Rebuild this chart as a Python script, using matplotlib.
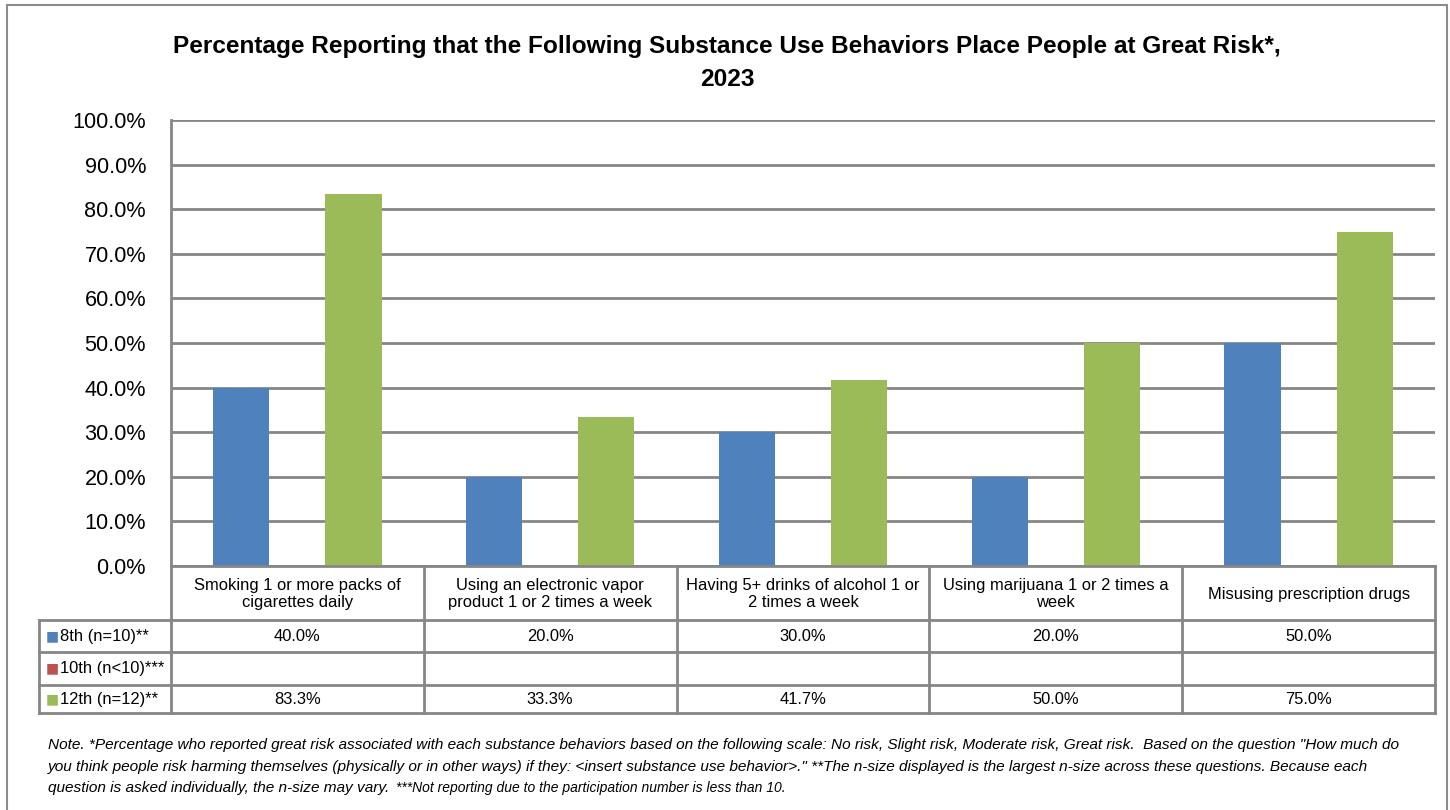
import matplotlib
matplotlib.use("Agg")
import matplotlib.pyplot as plt
import numpy as np
from matplotlib.patches import Rectangle
from matplotlib import font_manager

try:
    font_manager.findfont("Liberation Sans Narrow", fallback_to_default=False)
    FAM, SC = "Liberation Sans Narrow", 1.0
except Exception:
    FAM, SC = "Liberation Sans", 0.82
plt.rcParams['font.family'] = [FAM, 'DejaVu Sans']

title_lines = ["Percentage Reporting that the Following Substance Use Behaviors Place People at Great Risk*,",
               "2023"]
categories = ["Smoking 1 or more packs of\ncigarettes daily",
              "Using an electronic vapor\nproduct 1 or 2 times a week",
              "Having 5+ drinks of alcohol 1 or\n2 times a week",
              "Using marijuana 1 or 2 times a\nweek",
              "Misusing prescription drugs"]
series_names = ["8th (n=10)**", "10th (n<10)***", "12th (n=12)**"]
grade8 = [40.0, 20.0, 30.0, 20.0, 50.0]
grade10 = [None, None, None, None, None]
grade12 = [83.3, 33.3, 41.7, 50.0, 75.0]
colors = ["#4F81BD", "#C0504D", "#9BBB59"]
yticks = [0, 10, 20, 30, 40, 50, 60, 70, 80, 90, 100]
note_lines = [
    "Note. *Percentage who reported great risk associated with each substance behaviors based on the following scale: No risk, Slight risk, Moderate risk, Great risk.  Based on the question \"How much do",
    "you think people risk harming themselves (physically or in other ways) if they: <insert substance use behavior>.\" **The n-size displayed is the largest n-size across these questions. Because each",
    "question is asked individually, the n-size may vary. ",
]
note_small = "***Not reporting due to the participation number is less than 10."

W, H = 1450, 810
fig = plt.figure(figsize=(W / 100, H / 100), dpi=100)
grid_c = "#868686"


def fs(v):
    return v * SC


# outer border
fig.add_artist(Rectangle((7 / W, -0.01), (1447 - 7) / W, (H - 5) / H + 0.01,
                         transform=fig.transFigure, fill=False, edgecolor="#8c8c8c", lw=1.5))

L, R, T, B = 171, 1435, 120, 566
ax = fig.add_axes([L / W, 1 - B / H, (R - L) / W, (B - T) / H])
series = [grade8, grade10, grade12]
n = len(categories)
x = np.arange(n)
bw = 0.222
for i, (vals, c) in enumerate(zip(series, colors)):
    for xi, v in zip(x, vals):
        if v is None:
            continue
        ax.bar(xi + (i - 1) * bw, v, width=bw, color=c, zorder=3)

ax.set_xlim(-0.5, n - 0.5)
ax.set_ylim(0, 100)
ax.set_yticks(yticks)
ax.set_yticklabels([f"{t:.1f}%" for t in yticks], fontsize=fs(19))
ax.tick_params(axis='y', length=0, pad=18)
ax.set_xticks([])
ax.grid(axis='y', color=grid_c, lw=2, zorder=1)
for s in ["top", "right", "bottom"]:
    ax.spines[s].set_visible(False)
ax.spines["left"].set_color(grid_c)
ax.spines["left"].set_linewidth(2)

for yy, line in zip([47, 80], title_lines):
    fig.text(727 / W, 1 - yy / H, line, ha="center", va="center", fontsize=fs(21.4),
             fontweight="bold")

# data table below
tb_top, hdr_bot, tb_bot = 566, 620, 713
row_edges = [620, 652, 685, 713]
tax = fig.add_axes([L / W, 1 - tb_bot / H, (R - L) / W, (tb_bot - tb_top) / H])
tax.set_xlim(-0.5, n - 0.5)
tax.set_ylim(tb_bot, tb_top)
tax.axis("off")
catw = (R - L) / n
lab_left = -0.5 - (L - 39) / catw
lc = dict(color=grid_c, lw=2, clip_on=False)
tax.plot([-0.5, n - 0.5], [tb_top, tb_top], **lc)
for yv in row_edges:
    tax.plot([lab_left, n - 0.5], [yv, yv], **lc)
for k in range(n + 1):
    tax.plot([k - 0.5, k - 0.5], [tb_top, tb_bot], **lc)
tax.plot([lab_left, lab_left], [hdr_bot, tb_bot], **lc)

for xi, cat in zip(x, categories):
    tax.text(xi, (tb_top + hdr_bot) / 2 + 1, cat, ha="center", va="center",
             fontsize=fs(14.5), linespacing=1.1, clip_on=False)
for r, (name, vals, c) in enumerate(zip(series_names, series, colors)):
    yc = (row_edges[r] + row_edges[r + 1]) / 2
    tax.text(lab_left + 7 / catw, yc, "\u25A0", color=c, ha="left", va="center",
             fontsize=10, clip_on=False, family="DejaVu Sans")
    tax.text(lab_left + 21 / catw, yc, name, ha="left", va="center", fontsize=fs(14.5),
             clip_on=False)
    for xi, v in zip(x, vals):
        if v is None:
            continue
        tax.text(xi, yc, f"{v:.1f}%", ha="center", va="center", fontsize=fs(14.5),
                 clip_on=False)

last = None
for yy, line in zip([745, 767, 788], note_lines):
    last = fig.text(48 / W, 1 - yy / H, line, ha="left", va="center", fontsize=fs(13.55),
                    style="italic")
fig.canvas.draw()
bb = last.get_window_extent()
fig.text((bb.x1 + 2) / W, 1 - 788 / H, note_small, ha="left", va="center",
         fontsize=fs(12.2), style="italic")

fig.savefig("out.png", dpi=100)
